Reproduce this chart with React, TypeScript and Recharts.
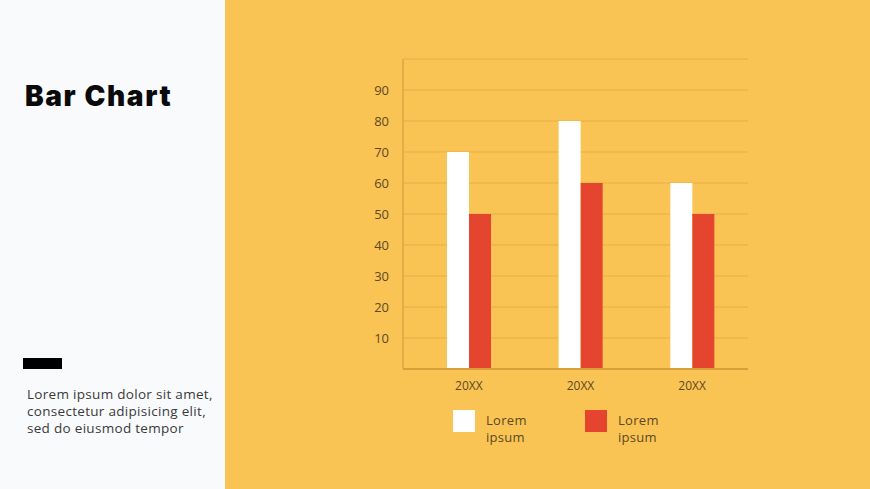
import React from "react";
import { BarChart, Bar, XAxis, YAxis, CartesianGrid } from "recharts";

const categories = ["20XX", "20XX", "20XX"];
const seriesA = [70, 80, 60];
const seriesB = [50, 60, 50];
const yTicks = [10, 20, 30, 40, 50, 60, 70, 80, 90, 100];
const seriesNames = ["Lorem ipsum", "Lorem ipsum"];

const YELLOW = "#F9C453";
const WHITE = "#FFFFFF";
const RED = "#E5452F";
const TEXT = "#5E4826";
const FONT = "'Open Sans', 'Noto Sans', sans-serif";

const data = categories.map((c, i) => ({ name: c, a: seriesA[i], b: seriesB[i] }));

function LegendItem({ color, label, left }: { color: string; label: string; left: number }) {
  const [l1, l2] = label.split(" ");
  return (
    <div style={{ position: "absolute", left, top: 410, display: "flex" }}>
      <div style={{ width: 22, height: 22, background: color }} />
      <div style={{ marginLeft: 11, marginTop: 2, fontSize: 13, lineHeight: "17px", letterSpacing: 0.3, color: TEXT, fontFamily: FONT }}>
        {l1}
        <br />
        {l2}
      </div>
    </div>
  );
}

export default function App() {
  return (
    <div style={{ position: "absolute", left: 0, top: 0, width: 870, height: 489, overflow: "hidden", background: "#F9FAFC" }}>
      <div style={{ position: "absolute", left: 225, top: 0, width: 645, height: 489, background: YELLOW }} />
      <div
        style={{
          position: "absolute",
          left: 25,
          top: 79,
          fontFamily: "Inter, sans-serif",
          fontWeight: 900,
          fontSize: 28,
          letterSpacing: 1.6,
          color: "#0A0A0A",
        }}
      >
        Bar Chart
      </div>
      <div style={{ position: "absolute", left: 23, top: 358, width: 39, height: 11, background: "#000" }} />
      <div
        style={{
          position: "absolute",
          left: 27,
          top: 386,
          fontFamily: FONT,
          fontSize: 13.5,
          lineHeight: "17px",
          letterSpacing: 0.3,
          color: "#3A3A3A",
        }}
      >
        Lorem ipsum dolor sit amet,
        <br />
        consectetur adipisicing elit,
        <br />
        sed do eiusmod tempor
      </div>

      <div style={{ position: "absolute", left: 340, top: 49 }}>
        <BarChart
          width={420}
          height={350}
          data={data}
          margin={{ top: 10, right: 12, bottom: 0, left: 0 }}
          barGap={0}
          barSize={22}
        >
          <CartesianGrid vertical={false} stroke="#E9AE45" strokeWidth={1} />
          <XAxis
            dataKey="name"
            padding={{ left: 10, right: 0 }}
            axisLine={{ stroke: "#D9A03A", strokeWidth: 2 }}
            tickLine={false}
            tick={{ fill: TEXT, fontSize: 12, fontFamily: FONT }}
            height={30}
            tickMargin={6}
          />
          <YAxis
            domain={[0, 100]}
            ticks={yTicks}
            interval={0}
            width={63}
            axisLine={{ stroke: "#E0A640", strokeWidth: 1.5 }}
            tickLine={false}
            tickSize={0}
            tickMargin={14}
            tickFormatter={(v: number) => (v === 100 ? "" : String(v))}
            tick={{ fill: TEXT, fontSize: 13, fontFamily: FONT }}
          />
          <Bar dataKey="a" fill={WHITE} isAnimationActive={false} />
          <Bar dataKey="b" fill={RED} isAnimationActive={false} />
        </BarChart>
      </div>

      <LegendItem color={WHITE} label={seriesNames[0]} left={453} />
      <LegendItem color={RED} label={seriesNames[1]} left={585} />
    </div>
  );
}
